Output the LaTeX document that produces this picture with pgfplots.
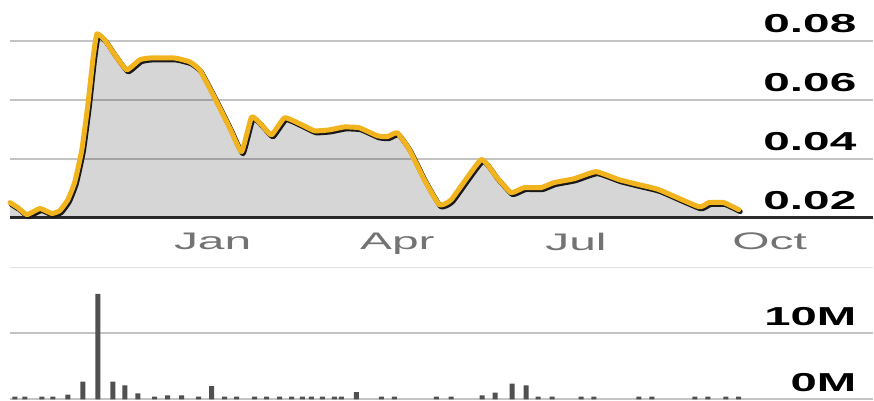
\documentclass[border=0pt]{standalone}
\usepackage{pgfplots}
\usepackage{pgfplotstable}
\pgfplotsset{compat=1.18}
\usepackage{fontspec}
\setmainfont{Liberation Sans}

\definecolor{gold}{RGB}{242,180,30}
\definecolor{shadowc}{RGB}{25,25,25}
\definecolor{gridc}{RGB}{196,196,196}
\definecolor{basec}{RGB}{45,45,45}
\definecolor{volbar}{RGB}{80,80,80}
\definecolor{labgray}{RGB}{115,115,115}

\pgfplotstableread{
day price
-101.5 0.0251
-97.5 0.0234
-93 0.0210
-86.5 0.0231
-80.5 0.0214
-76.5 0.0224
-72.5 0.0261
-69 0.0322
-65.5 0.0431
-62.5 0.0583
-60 0.0736
-58 0.0824
-54 0.0803
-49 0.0753
-43 0.0702
-36.5 0.0736
-31.5 0.0742
-19 0.0742
-11.5 0.0729
-6.5 0.0702
1 0.0607
8.5 0.0505
14.5 0.0424
19.5 0.0542
24.5 0.0515
29.5 0.0481
36 0.0539
43.5 0.0519
51 0.0495
58.5 0.0498
66 0.0508
73.5 0.0505
82.5 0.0478
87.5 0.0475
92.5 0.0488
98.5 0.0431
106 0.0329
113.5 0.0244
119.5 0.0261
134.5 0.0397
142 0.0339
149.5 0.0285
156 0.0302
164.5 0.0302
171 0.0319
181 0.0332
192 0.0356
203.5 0.0329
213.5 0.0312
223.5 0.0295
243.5 0.0237
248.5 0.0251
256 0.0251
263.5 0.0227
}\pricetable

\pgfplotstableread{
day vol
-99 0.4
-94 0.4
-85.5 0.4
-80 0.4
-72.5 0.7
-65 2.7
-57.5 16.0
-50 2.7
-44 2.1
-37.5 0.9
-29 0.4
-22.5 0.6
-15.5 0.6
-7 0.4
-0.5 2.0
6 0.4
12 0.4
21 0.4
27 0.4
33.5 0.4
39.5 0.4
45 0.4
49.5 0.4
55 0.4
61 0.4
64.5 0.4
72 1.1
84.5 0.4
91 0.4
112 0.4
119.5 0.4
135 0.6
141.5 1.0
150 2.4
157 2.1
163 0.4
170 0.4
184.5 0.4
191 0.4
213.5 0.4
220 0.4
241.5 0.4
248 0.4
257 0.4
263.5 0.4
}\voltable

\begin{document}
\begin{tikzpicture}
\path (0,0) rectangle (874bp,401bp);
\begin{axis}[
  at={(10bp,183bp)}, anchor=south west,
  scale only axis, width=864bp, height=218bp,
  xmin=-101.5, xmax=330.5, ymin=0.02, ymax=0.0939,
  clip=false,
  scaled y ticks=false,
  axis line style={draw=none},
  tick style={draw=none},
  major tick length=0pt,
  ytick={0.02,0.04,0.06,0.08},
  ymajorgrids, grid style={gridc, line width=2bp},
  yticklabel pos=right,
  yticklabel style={anchor=south east, inner sep=0pt, xshift=-16bp, yshift=7.5bp,
    font=\fontsize{26bp}{30bp}\selectfont\bfseries, text=black},
  yticklabel={\scalebox{1.84}[1]{\pgfmathprintnumber[fixed,fixed zerofill,precision=2,assume math mode=true]{\tick}}},
  xtick={0,92.5,182,279},
  xticklabels={\scalebox{2}[1]{Jan},\scalebox{2}[1]{Apr},\scalebox{2}[1]{Jul},\scalebox{2}[1]{Oct}},
  xticklabel style={anchor=north, inner sep=0pt, yshift=-15bp,
    font=\fontsize{24bp}{28bp}\selectfont, text=labgray},
  extra y ticks={0.02},
  extra y tick style={yticklabel={}, grid style={basec, line width=3bp}},
]
\addplot[fill=black, fill opacity=0.16, draw=none] table[x=day, y=price] {\pricetable}
  -- (axis cs:263.5,0.02) -- (axis cs:-101.5,0.02) -- cycle;
\addplot[shadowc, line width=5bp, smooth, tension=0.25, line join=round, line cap=round, xshift=1.5bp, yshift=-2bp] table[x=day, y=price] {\pricetable};
\addplot[gold, line width=5bp, smooth, tension=0.25, line join=round, line cap=round] table[x=day, y=price] {\pricetable};
\end{axis}

\begin{axis}[
  at={(10bp,1bp)}, anchor=south west,
  scale only axis, width=864bp, height=132bp,
  xmin=-101.5, xmax=330.5, ymin=0, ymax=20,
  clip=false,
  axis line style={draw=none},
  tick style={draw=none},
  major tick length=0pt,
  xtick=\empty,
  ytick={0,10},
  ymajorgrids, grid style={gridc, line width=2bp},
  extra y ticks={20},
  extra y tick style={yticklabel={}, grid style={gridc!50, line width=1.5bp}},
  yticklabel pos=right,
  yticklabel style={anchor=south east, inner sep=0pt, xshift=-16bp, yshift=7.5bp,
    font=\fontsize{26bp}{30bp}\selectfont\bfseries, text=black},
  yticklabel={\scalebox{1.82}[1]{\pgfmathprintnumber[assume math mode=true]{\tick}M}},
]
\addplot[ybar, bar width=5bp, fill=volbar, draw=none] table[x=day, y=vol] {\voltable};
\end{axis}
\end{tikzpicture}
\end{document}
